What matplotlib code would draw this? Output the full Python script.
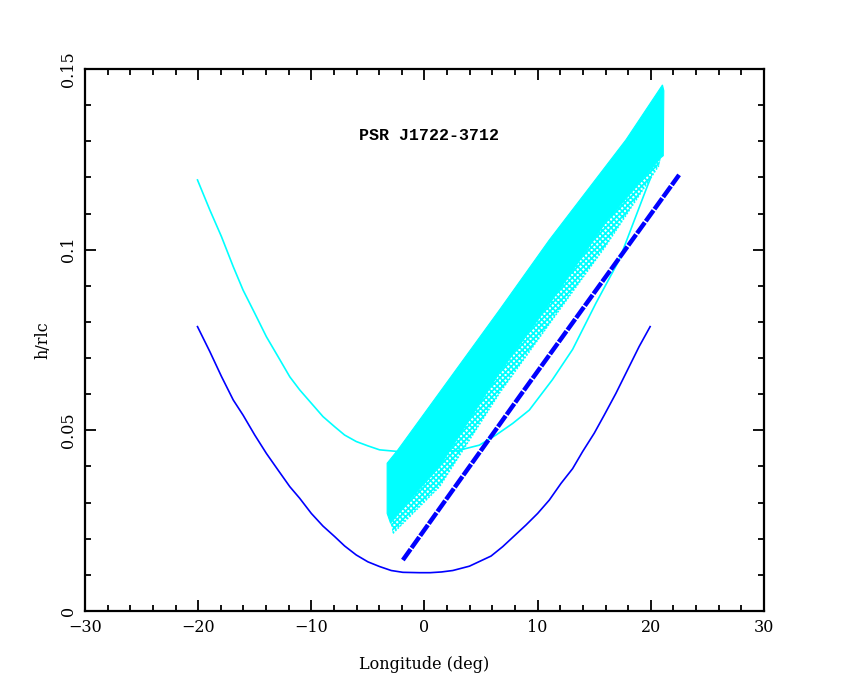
import matplotlib
matplotlib.use("Agg")
import matplotlib.pyplot as plt
from matplotlib.ticker import MultipleLocator

plt.rcParams["hatch.linewidth"] = 1.3

# lower (blue) curve: longitude vs h/rlc
blue_x = [-20.06, -18.97, -17.94, -16.9, -16.03, -15.0, -13.97, -12.94, -11.9, -11.03,
          -10.0, -8.97, -7.94, -7.06, -6.03, -5.0, -3.97, -2.94, -1.91, -0.44,
          0.5, 1.5, 2.5, 3.97, 5.88, 6.91, 8.97, 10.0, 11.03, 12.06,
          13.09, 13.97, 15.0, 15.88, 16.91, 17.94, 18.97, 19.94]
blue_y = [0.0787, 0.0718, 0.0649, 0.0584, 0.0542, 0.0487, 0.0436, 0.0390, 0.0344, 0.0312,
          0.0270, 0.0235, 0.0206, 0.0180, 0.0155, 0.0136, 0.0123, 0.0112, 0.0107, 0.0106,
          0.0106, 0.0108, 0.0112, 0.0124, 0.0152, 0.0178, 0.0238, 0.0270, 0.0307, 0.0353,
          0.0394, 0.0441, 0.0492, 0.0542, 0.0602, 0.0667, 0.0732, 0.0787]

# upper (cyan) curve
cyan_x = [-20.06, -18.97, -17.94, -16.9, -16.03, -15.0, -13.97, -12.94, -11.9, -11.03,
          -10.0, -8.97, -7.94, -7.06, -6.03, -5.0, -3.97, -2.2, 0.0, 2.94,
          4.85, 6.32, 7.79, 9.26, 11.3, 13.09, 15.15, 17.2, 19.56, 20.0]
cyan_y = [0.1193, 0.1110, 0.1036, 0.0953, 0.0888, 0.0824, 0.0759, 0.0704, 0.0648, 0.0612,
          0.0575, 0.0538, 0.0510, 0.0487, 0.0469, 0.0457, 0.0446, 0.0441, 0.0440, 0.0444,
          0.0459, 0.0487, 0.0519, 0.0556, 0.0640, 0.0724, 0.0852, 0.0971, 0.1165, 0.1200]

# dense cyan band (solution region): upper edge then lower (solid) edge
band_top_x = [-3.3, -2.35, 6.62, 11.03, 17.8, 21.03, 21.15]
band_top_y = [0.0409, 0.0446, 0.0833, 0.1027, 0.1304, 0.1456, 0.1440]
band_low_x = [21.1, 20.9, 16.0, 11.91, 6.62, 1.32, -1.0, -3.0, -3.3]
band_low_y = [0.1260, 0.1255, 0.1075, 0.0888, 0.0659, 0.0399, 0.0318, 0.0243, 0.0270]

# sparse fringe below the band (outer edge)
fringe_x = [-2.79, 1.32, 6.62, 11.91, 16.0, 20.75]
fringe_y = [0.0215, 0.0344, 0.0603, 0.0833, 0.1010, 0.1235]

# blue straight ridge
ridge_x = [-1.91, 8.38, 22.5]
ridge_y = [0.0141, 0.0593, 0.1207]

fig = plt.figure(figsize=(8.5, 6.8), dpi=100)
ax = fig.add_axes([0.1, 0.1015, 0.7988, 0.797])

ax.plot(cyan_x, cyan_y, color="#00ffff", lw=1.2, zorder=2)
ax.plot(blue_x, blue_y, color="#0000ff", lw=1.2, zorder=2)

# fringe: hatched strip between the solid edge and the outer edge
ax.fill(band_low_x[1:-1] + fringe_x, band_low_y[1:-1] + fringe_y,
        facecolor="none", edgecolor="#00ffff", hatch="xxxxxx", lw=0, zorder=3)
ax.plot(fringe_x, fringe_y, color="#00ffff", lw=1.2,
        linestyle=(0, (1.0, 1.0)), zorder=3)
ax.fill(band_top_x + band_low_x, band_top_y + band_low_y,
        color="#00ffff", lw=0.8, zorder=3)

ax.plot(ridge_x, ridge_y, color="#0000ff", lw=3.2,
        linestyle=(0, (3.0, 0.35)), zorder=4)

ax.text(0.44, 0.1315, "PSR J1722-3712", fontsize=12, fontweight="bold",
        family="Liberation Mono", ha="center", va="center")

ax.set_xlim(-30, 30)
ax.set_ylim(0, 0.15)
ax.xaxis.set_major_locator(MultipleLocator(10))
ax.xaxis.set_minor_locator(MultipleLocator(2))
ax.yaxis.set_major_locator(MultipleLocator(0.05))
ax.yaxis.set_minor_locator(MultipleLocator(0.01))
ax.set_yticks([0, 0.05, 0.1, 0.15])
ax.set_yticklabels(["0", "0.05", "0.1", "0.15"], rotation=90, va="center")
ax.tick_params(which="both", direction="in", top=True, right=True,
               width=1.3, labelsize=11.5, pad=6)
ax.tick_params(which="major", length=8)
ax.tick_params(which="minor", length=4)
for lab in ax.get_xticklabels() + ax.get_yticklabels():
    lab.set_family("DejaVu Serif")
for sp in ax.spines.values():
    sp.set_linewidth(1.6)

ax.set_xlabel("Longitude (deg)", fontsize=11.5, family="DejaVu Serif", labelpad=14)
ax.set_ylabel("h/rlc", fontsize=11.5, family="DejaVu Serif", labelpad=6)

fig.savefig("out.png", dpi=100)
